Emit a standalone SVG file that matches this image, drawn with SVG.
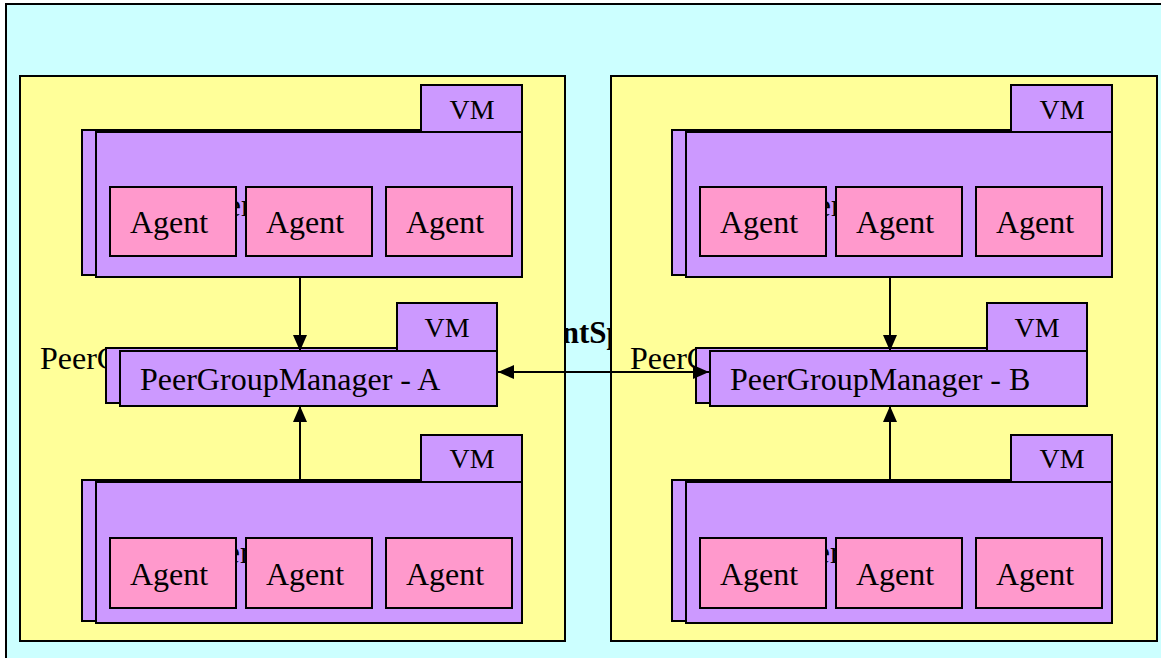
<svg xmlns="http://www.w3.org/2000/svg" width="1161" height="658" viewBox="0 0 1161 658">
<defs>
<style>
.space{fill:#CCFFFF;stroke:#000;stroke-width:2}
.group{fill:#FFFF99;stroke:#000;stroke-width:2}
.vm{fill:#CC99FF;stroke:#000;stroke-width:2}
.agent{fill:#FF99CC;stroke:#000;stroke-width:2}
.t{font-family:"Liberation Serif","Times New Roman",serif;fill:#000}
.big{font-size:32px}
.vmt{font-size:28px}
.bold{font-size:31px;font-weight:bold}
.conn{stroke:#000;stroke-width:2;fill:none}
</style>
<marker id="ah" markerUnits="userSpaceOnUse" markerWidth="16" markerHeight="14" refX="16" refY="7" orient="auto-start-reverse">
<path d="M0,0 L16,7 L0,14 z" fill="#000"/>
</marker>
</defs>

<g id="agent-space">
<rect class="space" x="6" y="4" width="1170" height="670"/>
<text class="t bold" x="510" y="343">AgentSpace</text>
</g>

<g id="peer-group-a">
<rect class="group" x="20" y="76" width="545" height="565"/>
<text class="t big" x="40" y="369">PeerGroup</text>
</g>
<g id="peer-group-b">
<rect class="group" x="611" y="76" width="546" height="565"/>
<text class="t big" x="630" y="369">PeerGroup</text>
</g>

<g id="vm-a-top">
<rect class="vm" x="82" y="130" width="426" height="145"/>
<rect class="vm" x="421" y="85" width="101" height="47"/>
<text class="t vmt" x="472" y="119" text-anchor="middle">VM</text>
<rect class="vm" x="96" y="132" width="426" height="145"/>
<text class="t big" x="194.8" y="216">Peer</text>
<rect class="agent" x="110" y="187" width="126" height="69"/>
<rect class="agent" x="246" y="187" width="126" height="69"/>
<rect class="agent" x="386" y="187" width="126" height="69"/>
<text class="t big" x="169" y="233" text-anchor="middle">Agent</text>
<text class="t big" x="305" y="233" text-anchor="middle">Agent</text>
<text class="t big" x="445" y="233" text-anchor="middle">Agent</text>
</g>

<g id="vm-a-bottom">
<rect class="vm" x="82" y="480" width="426" height="141"/>
<rect class="vm" x="421" y="435" width="101" height="47"/>
<text class="t vmt" x="472" y="468" text-anchor="middle">VM</text>
<rect class="vm" x="96" y="482" width="426" height="141"/>
<text class="t big" x="193.8" y="563">Peer</text>
<rect class="agent" x="110" y="538" width="126" height="70"/>
<rect class="agent" x="246" y="538" width="126" height="70"/>
<rect class="agent" x="386" y="538" width="126" height="70"/>
<text class="t big" x="169" y="585" text-anchor="middle">Agent</text>
<text class="t big" x="305" y="585" text-anchor="middle">Agent</text>
<text class="t big" x="445" y="585" text-anchor="middle">Agent</text>
</g>

<g id="pgm-a">
<rect class="vm" x="106" y="348" width="377" height="55"/>
<rect class="vm" x="397" y="303" width="100" height="48"/>
<text class="t vmt" x="447" y="337" text-anchor="middle">VM</text>
<rect class="vm" x="120" y="351" width="377" height="55"/>
<text class="t big" x="140" y="390">PeerGroupManager - A</text>
</g>

<g id="vm-b-top">
<rect class="vm" x="672" y="130" width="426" height="145"/>
<rect class="vm" x="1011" y="85" width="101" height="47"/>
<text class="t vmt" x="1062" y="119" text-anchor="middle">VM</text>
<rect class="vm" x="686" y="132" width="426" height="145"/>
<text class="t big" x="784.8" y="216">Peer</text>
<rect class="agent" x="700" y="187" width="126" height="69"/>
<rect class="agent" x="836" y="187" width="126" height="69"/>
<rect class="agent" x="976" y="187" width="126" height="69"/>
<text class="t big" x="759" y="233" text-anchor="middle">Agent</text>
<text class="t big" x="895" y="233" text-anchor="middle">Agent</text>
<text class="t big" x="1035" y="233" text-anchor="middle">Agent</text>
</g>

<g id="vm-b-bottom">
<rect class="vm" x="672" y="480" width="426" height="141"/>
<rect class="vm" x="1011" y="435" width="101" height="47"/>
<text class="t vmt" x="1062" y="468" text-anchor="middle">VM</text>
<rect class="vm" x="686" y="482" width="426" height="141"/>
<text class="t big" x="783.8" y="563">Peer</text>
<rect class="agent" x="700" y="538" width="126" height="70"/>
<rect class="agent" x="836" y="538" width="126" height="70"/>
<rect class="agent" x="976" y="538" width="126" height="70"/>
<text class="t big" x="759" y="585" text-anchor="middle">Agent</text>
<text class="t big" x="895" y="585" text-anchor="middle">Agent</text>
<text class="t big" x="1035" y="585" text-anchor="middle">Agent</text>
</g>

<g id="pgm-b">
<rect class="vm" x="696" y="348" width="377" height="55"/>
<rect class="vm" x="987" y="303" width="100" height="48"/>
<text class="t vmt" x="1037" y="337" text-anchor="middle">VM</text>
<rect class="vm" x="710" y="351" width="377" height="55"/>
<text class="t big" x="730" y="390">PeerGroupManager - B</text>
</g>

<g id="connectors">
<line class="conn" x1="300" y1="277" x2="300" y2="351" marker-end="url(#ah)"/>
<line class="conn" x1="300" y1="482" x2="300" y2="406" marker-end="url(#ah)"/>
<line class="conn" x1="890" y1="277" x2="890" y2="351" marker-end="url(#ah)"/>
<line class="conn" x1="890" y1="482" x2="890" y2="406" marker-end="url(#ah)"/>
<line class="conn" x1="498" y1="372" x2="709" y2="372" marker-start="url(#ah)" marker-end="url(#ah)"/>
</g>
</svg>
